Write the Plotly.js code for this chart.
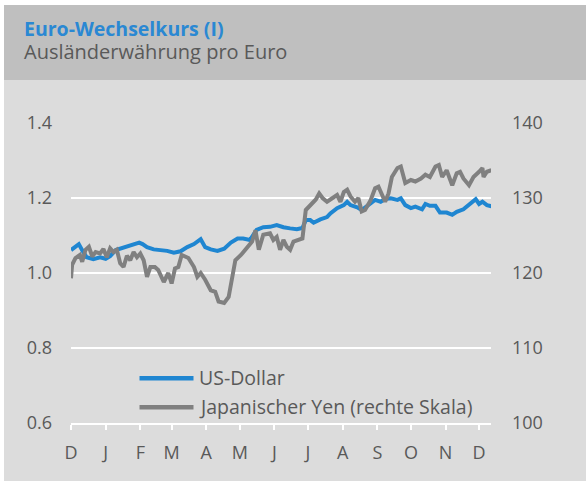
<!DOCTYPE html>
<html>
<head>
<meta charset="utf-8">
<script src="https://cdn.plot.ly/plotly-3.0.1.min.js"></script>
<style>html,body{margin:0;padding:0;background:#fff;}#chart{width:586px;height:484px;}</style>
</head>
<body>
<div id="chart"></div>
<script>
// ---- Data ----
const monthTicks = ['2016-12-01','2017-01-01','2017-02-01','2017-03-01','2017-04-01','2017-05-01','2017-06-01','2017-07-01','2017-08-01','2017-09-01','2017-10-01','2017-11-01','2017-12-01'];
const monthLabels = ['D','J','F','M','A','M','J','J','A','S','O','N','D'];

const usdDates = ['2016-12-01','2016-12-08','2016-12-11','2016-12-15','2016-12-21','2016-12-27','2017-01-01','2017-01-05','2017-01-10','2017-01-14','2017-01-20','2017-01-25','2017-01-31','2017-02-03','2017-02-07','2017-02-13','2017-02-19','2017-02-25','2017-03-03','2017-03-09','2017-03-15','2017-03-21','2017-03-27','2017-03-31','2017-04-05','2017-04-11','2017-04-17','2017-04-23','2017-04-29','2017-05-04','2017-05-10','2017-05-16','2017-05-22','2017-05-28','2017-06-03','2017-06-09','2017-06-15','2017-06-21','2017-06-26','2017-06-29','2017-07-03','2017-07-06','2017-07-12','2017-07-18','2017-07-21','2017-07-27','2017-08-02','2017-08-05','2017-08-08','2017-08-14','2017-08-18','2017-08-23','2017-08-27','2017-08-30','2017-09-04','2017-09-08','2017-09-13','2017-09-19','2017-09-22','2017-09-26','2017-10-01','2017-10-05','2017-10-11','2017-10-14','2017-10-18','2017-10-23','2017-10-27','2017-11-02','2017-11-07','2017-11-11','2017-11-17','2017-11-23','2017-11-28','2017-12-01','2017-12-04','2017-12-08','2017-12-12'];
const usdValues = [1.061,1.077,1.061,1.042,1.037,1.042,1.038,1.045,1.061,1.065,1.069,1.075,1.081,1.077,1.069,1.063,1.061,1.059,1.054,1.058,1.069,1.077,1.090,1.069,1.063,1.059,1.065,1.081,1.092,1.092,1.088,1.115,1.122,1.123,1.128,1.122,1.119,1.117,1.120,1.141,1.141,1.134,1.143,1.149,1.159,1.173,1.181,1.190,1.181,1.175,1.168,1.179,1.187,1.195,1.190,1.197,1.199,1.195,1.199,1.181,1.173,1.177,1.170,1.184,1.179,1.179,1.161,1.161,1.155,1.163,1.170,1.184,1.197,1.184,1.190,1.181,1.178];

const jpyDates = ['2016-12-01','2016-12-02','2016-12-05','2016-12-09','2016-12-11','2016-12-14','2016-12-17','2016-12-20','2016-12-23','2016-12-27','2016-12-30','2017-01-02','2017-01-05','2017-01-08','2017-01-11','2017-01-14','2017-01-17','2017-01-20','2017-01-23','2017-01-26','2017-01-29','2017-02-01','2017-02-04','2017-02-07','2017-02-10','2017-02-14','2017-02-17','2017-02-22','2017-02-26','2017-03-01','2017-03-04','2017-03-07','2017-03-10','2017-03-13','2017-03-16','2017-03-21','2017-03-24','2017-03-27','2017-03-31','2017-04-05','2017-04-09','2017-04-12','2017-04-17','2017-04-21','2017-04-24','2017-04-27','2017-05-02','2017-05-08','2017-05-12','2017-05-15','2017-05-18','2017-05-22','2017-05-28','2017-05-31','2017-06-03','2017-06-06','2017-06-09','2017-06-12','2017-06-15','2017-06-18','2017-06-23','2017-06-26','2017-06-29','2017-07-03','2017-07-08','2017-07-11','2017-07-14','2017-07-18','2017-07-23','2017-07-27','2017-07-30','2017-08-02','2017-08-05','2017-08-08','2017-08-12','2017-08-15','2017-08-18','2017-08-21','2017-08-26','2017-08-30','2017-09-02','2017-09-05','2017-09-08','2017-09-11','2017-09-14','2017-09-19','2017-09-22','2017-09-26','2017-10-01','2017-10-05','2017-10-10','2017-10-14','2017-10-18','2017-10-23','2017-10-26','2017-10-29','2017-11-02','2017-11-07','2017-11-11','2017-11-14','2017-11-17','2017-11-22','2017-11-26','2017-12-01','2017-12-04','2017-12-05','2017-12-08','2017-12-12'];
const jpyValues = [119.3,121.1,122.0,122.4,121.5,123.1,123.5,122.2,122.8,122.6,123.2,122.1,123.3,122.8,123.1,121.3,120.8,122.3,121.7,122.8,122.1,122.6,121.7,119.5,120.8,120.8,120.4,118.8,120.0,118.6,120.6,120.8,122.4,122.2,122.0,120.8,119.5,120.0,119.1,117.7,117.5,116.2,116.0,116.8,119.5,121.7,122.4,123.5,124.2,125.7,123.1,125.1,125.3,124.4,124.8,123.1,124.4,123.5,123.1,124.2,124.4,124.6,128.4,129.0,129.8,130.6,130.0,129.5,130.0,130.4,129.5,130.8,131.1,130.2,129.5,130.0,128.2,128.4,129.7,131.3,131.5,130.6,129.5,130.6,132.8,134.0,134.2,132.0,132.4,132.2,132.6,133.1,132.8,134.2,134.4,132.8,133.7,131.7,133.3,133.5,132.6,131.7,132.8,133.5,134.0,132.8,133.5,133.7];

const seriesNames = ['US-Dollar','Japanischer Yen (rechte Skala)'];
const titleText = 'Euro-Wechselkurs (I)';
const subtitleText = 'Ausländerwährung pro Euro';
const leftTicks = [0.6,0.8,1.0,1.2,1.4];
const rightTicks = [100,110,120,130,140];

// ---- Styling ----
const BLUE = '#1f86d1', GREY = '#808080', TXT = '#595959';
const FONT = 'Open Sans, sans-serif';
const W = 586, H = 484, ML = 71, MR = 95, MT = 123, MB = 61;
const PW = W - ML - MR, PH = H - MT - MB;
const px = x => (x - ML) / PW;          // pixel -> paper x
const py = y => (H - MB - y) / PH;      // pixel -> paper y

const traces = [
  {x: usdDates, y: usdValues, name: seriesNames[0], type: 'scatter', mode: 'lines',
   line: {color: BLUE, width: 4}, yaxis: 'y', hoverinfo: 'skip'},
  {x: jpyDates, y: jpyValues, name: seriesNames[1], type: 'scatter', mode: 'lines',
   line: {color: GREY, width: 4}, yaxis: 'y2', hoverinfo: 'skip'}
];

const layout = {
  width: W, height: H,
  margin: {l: ML, r: MR, t: MT, b: MB, pad: 0},
  paper_bgcolor: '#ffffff',
  plot_bgcolor: 'rgba(0,0,0,0)',
  showlegend: false,
  font: {family: FONT, color: TXT, size: 18},
  title: {
    text: '<span style="font-size:19.5px"><b>' + titleText + '</b></span><br>' +
          '<span style="font-size:20px;color:' + TXT + '">' + subtitleText + '</span>',
    font: {family: FONT, size: 17.4, color: '#2a88d3'},
    xref: 'container', x: 24 / W, xanchor: 'left',
    yref: 'container', y: 1 - 36 / H, yanchor: 'top'
  },
  xaxis: {
    type: 'date',
    range: ['2016-12-01', '2017-12-11 16:00'],
    tickmode: 'array', tickvals: monthTicks, ticktext: monthLabels,
    showgrid: false, zeroline: false,
    showline: true, linecolor: '#ffffff', linewidth: 2,
    ticks: 'outside', ticklen: 5, tickwidth: 2, tickcolor: '#ffffff',
    ticklabelstandoff: 7,
    tickfont: {family: FONT, size: 18, color: TXT},
    fixedrange: true
  },
  yaxis: {
    range: [0.6, 1.4],
    tickmode: 'array', tickvals: leftTicks, ticktext: leftTicks.map(v => v.toFixed(1)),
    showgrid: true, gridcolor: '#ffffff', gridwidth: 1.5,
    zeroline: false, showline: false, ticks: '',
    ticklabelstandoff: 18,
    tickfont: {family: FONT, size: 18, color: TXT},
    fixedrange: true
  },
  yaxis2: {
    range: [100, 140], overlaying: 'y', side: 'right',
    tickmode: 'array', tickvals: rightTicks, ticktext: rightTicks.map(String),
    showgrid: false, zeroline: false, showline: false, ticks: '',
    ticklabelstandoff: 20,
    tickfont: {family: FONT, size: 18, color: TXT},
    fixedrange: true
  },
  shapes: [
    {type: 'rect', xref: 'paper', yref: 'paper', layer: 'below',
     x0: px(4), x1: px(586), y0: py(80), y1: py(5),
     fillcolor: '#bfbfbf', line: {width: 0}},
    {type: 'rect', xref: 'paper', yref: 'paper', layer: 'below',
     x0: px(4), x1: px(586), y0: py(481), y1: py(80),
     fillcolor: '#dcdcdc', line: {width: 0}},
    {type: 'line', xref: 'paper', yref: 'paper',
     x0: px(139.5), x1: px(193.5), y0: py(378.3), y1: py(378.3),
     line: {color: BLUE, width: 4.5}},
    {type: 'line', xref: 'paper', yref: 'paper',
     x0: px(139.5), x1: px(193.5), y0: py(407.3), y1: py(407.3),
     line: {color: GREY, width: 4.5}}
  ],
  annotations: [
    {text: seriesNames[0], xref: 'paper', yref: 'paper',
     x: px(197), y: py(377), xanchor: 'left', yanchor: 'middle', showarrow: false,
     font: {family: FONT, size: 19.5, color: TXT}},
    {text: seriesNames[1], xref: 'paper', yref: 'paper',
     x: px(197), y: py(406), xanchor: 'left', yanchor: 'middle', showarrow: false,
     font: {family: FONT, size: 19.5, color: TXT}}
  ]
};

Plotly.newPlot('chart', traces, layout, {displayModeBar: false, staticPlot: true});
</script>
</body>
</html>
